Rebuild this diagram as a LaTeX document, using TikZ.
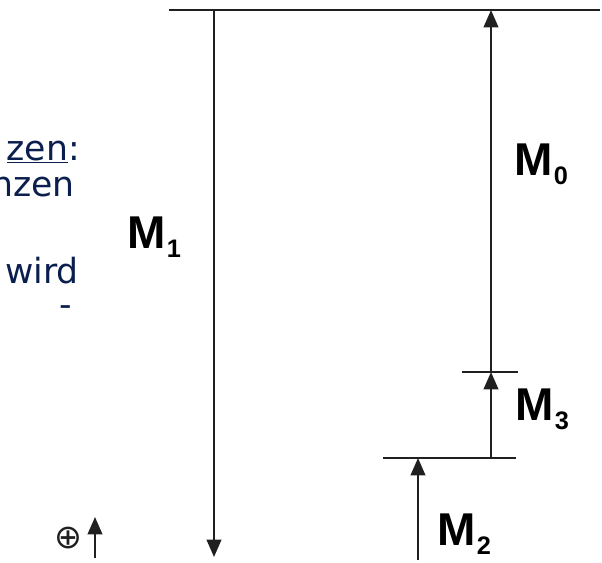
\documentclass[tikz,border=0pt]{standalone}
\usepackage{fontspec}
\newfontfamily\labfont{Liberation Sans}
\newfontfamily\txtfont{DejaVu Sans}
\usetikzlibrary{arrows.meta}
\definecolor{navy}{HTML}{0B1F4F}
\definecolor{linegray}{HTML}{202020}
\newcommand{\msub}[1]{\kern1pt\raisebox{-7pt}{\fontsize{19}{19}\selectfont #1}}

\begin{document}
\begin{tikzpicture}[x=0.75pt,y=-0.75pt,
  level/.style={linegray, line width=1.6pt},
  force/.style={linegray, line width=1.4pt, -{Triangle[length=13pt,width=11pt]}},
  mlabel/.style={font=\labfont\bfseries\fontsize{34.5}{34.5}\selectfont, anchor=base west, inner sep=0pt},
  slide/.style={font=\txtfont\fontsize{26}{26}\selectfont, text=navy, anchor=base east, inner sep=0pt}]
\useasboundingbox (0,0) rectangle (602,562);
% text cut off on the left
\node[slide] (t1) at (80,160) {\underline{zen}:};
\node[slide] (t2) at (75,196) {nzen};
\node[slide] (t3) at (79,283) {wird};
\node[slide] (t4) at (72,316) {-};
% levels
\coordinate (topL) at (169,10);
\coordinate (topR) at (600,10);
\draw[level] (topL) -- (topR);
\coordinate (l3L) at (462,372);
\coordinate (l3R) at (518,372);
\draw[level] (l3L) -- (l3R);
\coordinate (l2L) at (383,458);
\coordinate (l2R) at (516,458);
\draw[level] (l2L) -- (l2R);
% moments
\coordinate (m1top) at (214,10);
\coordinate (m1end) at (214,557);
\draw[force] (m1top) -- (m1end);
\coordinate (m0top) at (491,10);
\coordinate (m3top) at (491,372);
\coordinate (m3bot) at (491,458);
\draw[force] (m3top) -- (m0top);
\draw[force] (m3bot) -- (m3top);
\coordinate (m2top) at (418,458);
\coordinate (m2bot) at (418,560);
\draw[force] (m2bot) -- (m2top);
\node[mlabel] (M1) at (127,248) {M\msub{1}};
\node[mlabel] (M0) at (514,175) {M\msub{0}};
\node[mlabel] (M3) at (515,420) {M\msub{3}};
\node[mlabel] (M2) at (437,545) {M\msub{2}};
% sign convention
\node[font=\txtfont\fontsize{25}{25}\selectfont, text=linegray, inner sep=0pt] (plus) at (68,538) {⊕};
\coordinate (pbot) at (95,558);
\coordinate (ptop) at (95,517);
\draw[force] (pbot) -- (ptop);
\end{tikzpicture}
\end{document}
